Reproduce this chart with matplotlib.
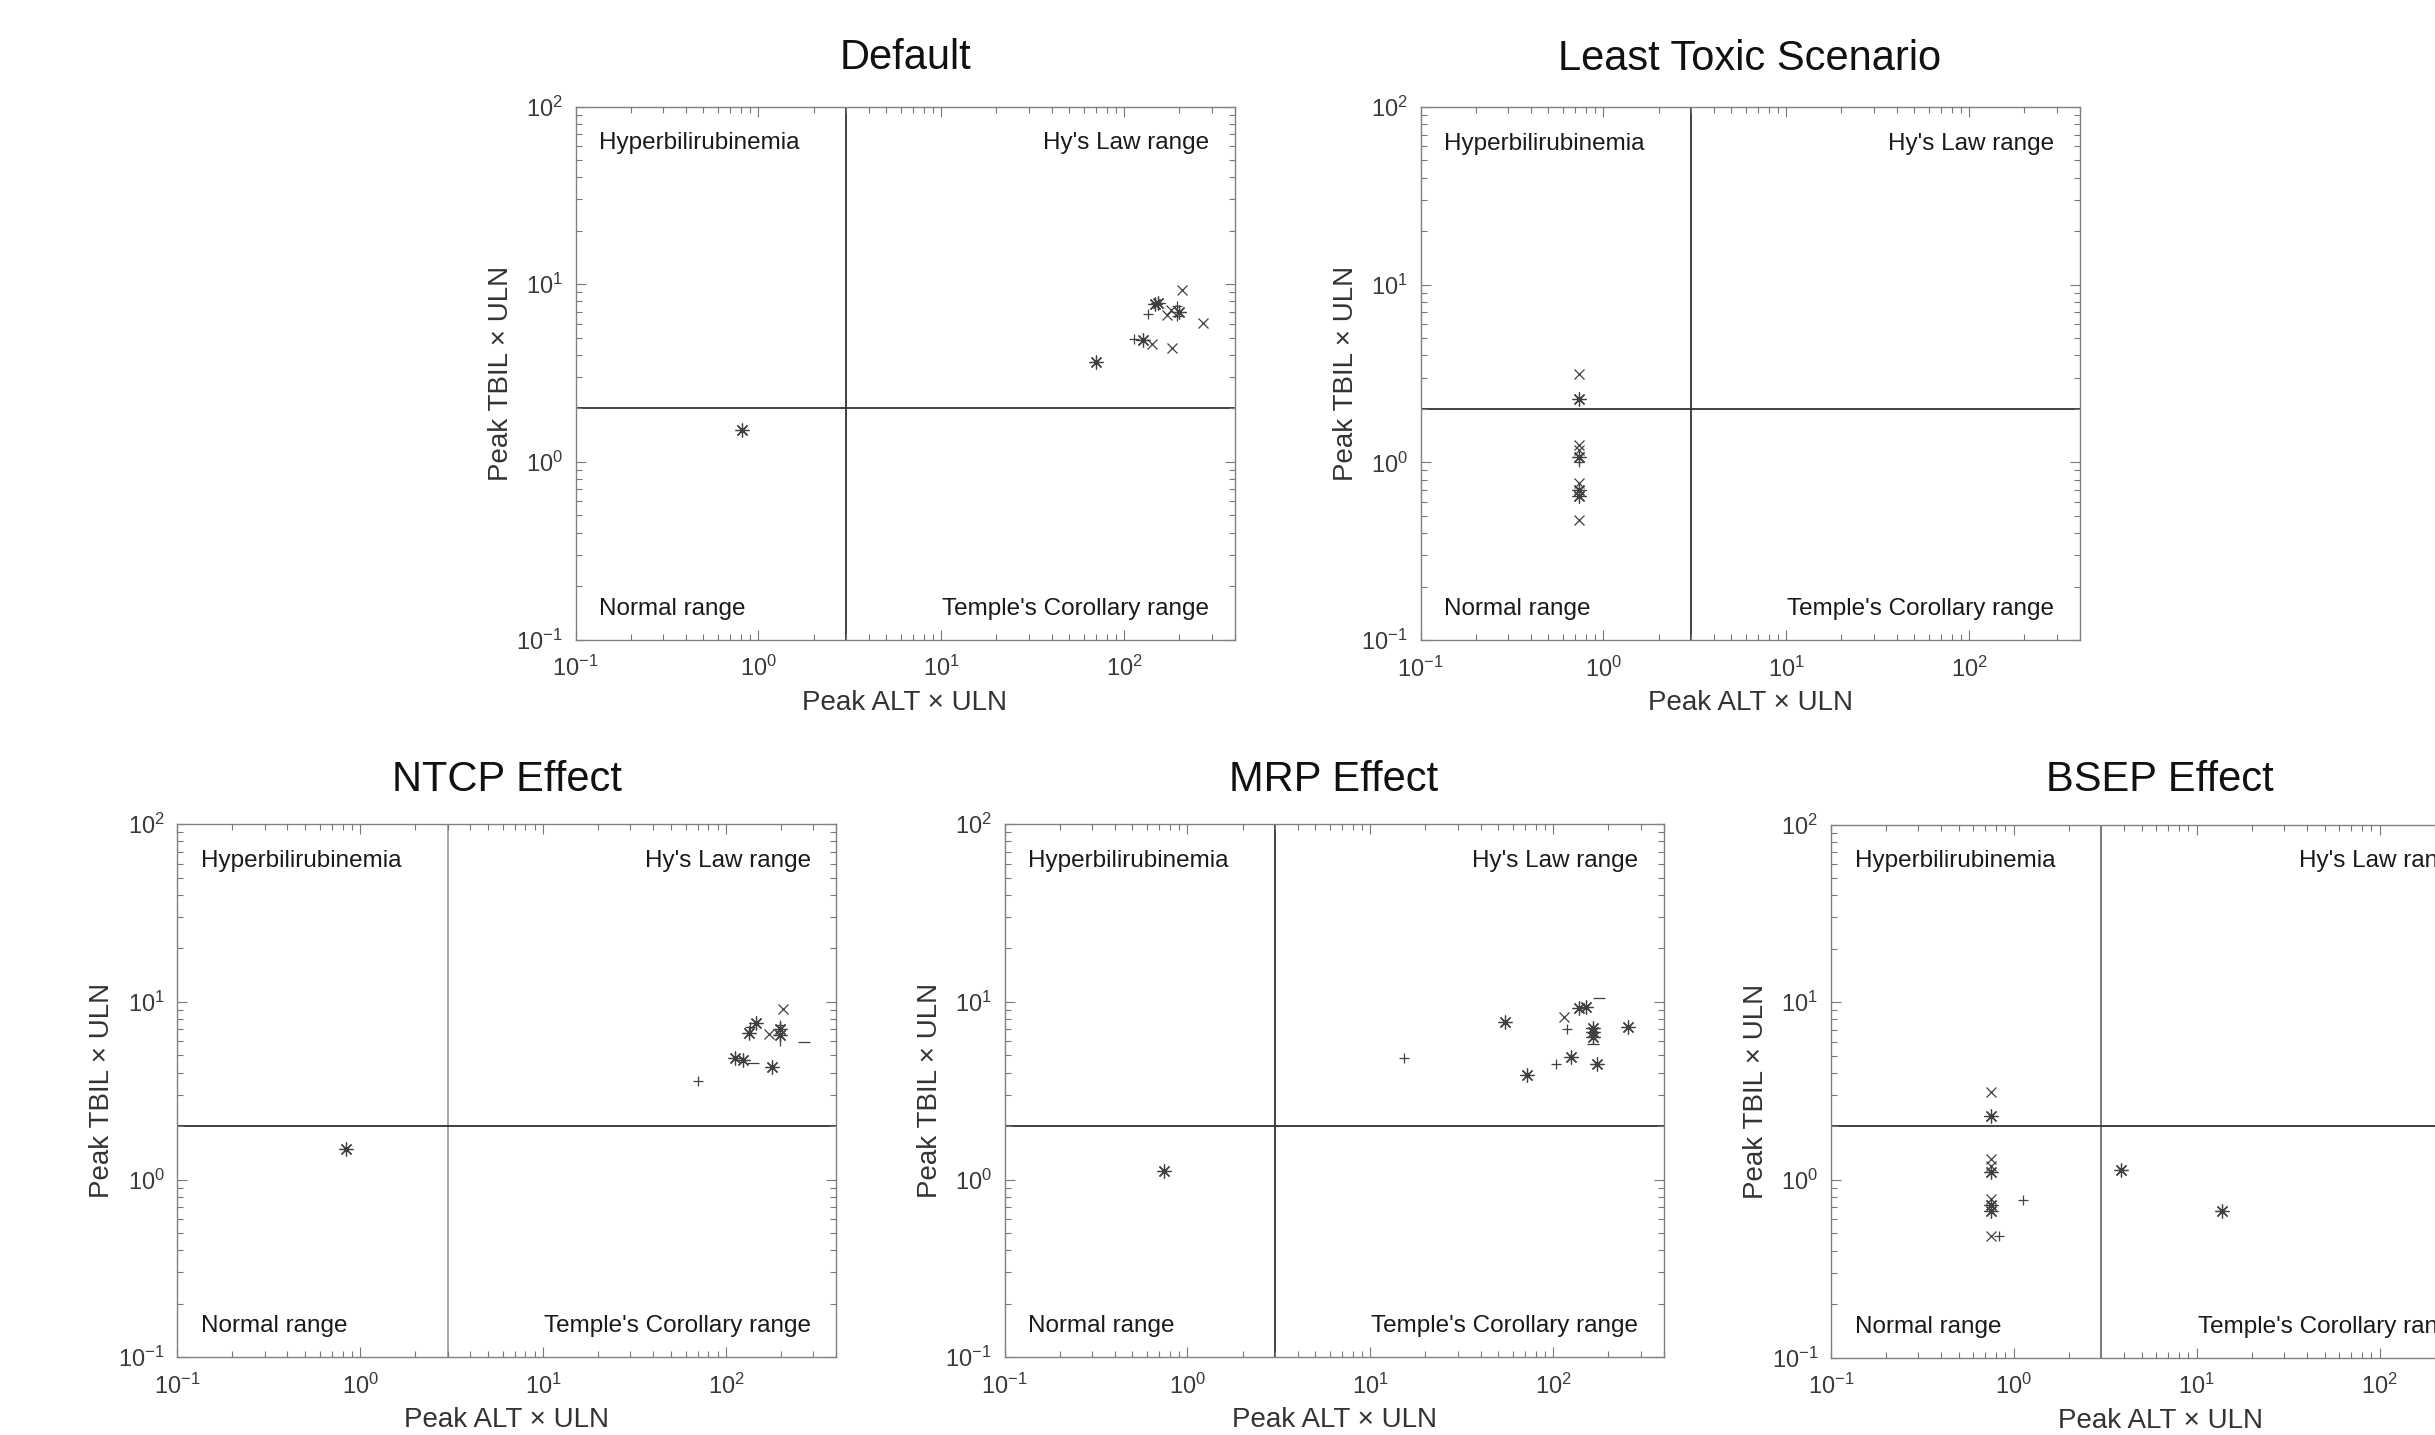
import matplotlib
matplotlib.use("Agg")
import matplotlib.pyplot as plt
from matplotlib.ticker import LogLocator, LogFormatterMathtext, NullFormatter

plt.rcParams['font.family'] = ['Liberation Sans', 'DejaVu Sans']
plt.rcParams['mathtext.fontset'] = 'custom'
plt.rcParams['mathtext.rm'] = 'Liberation Sans'
plt.rcParams['mathtext.it'] = 'Liberation Sans:italic'

# ---------------- data ----------------
titles = ["Default", "Least Toxic Scenario", "NTCP Effect", "MRP Effect", "BSEP Effect"]
quadrant_labels = ["Hyperbilirubinemia", "Hy's Law range", "Normal range", "Temple's Corollary range"]
x_label = "Peak ALT \u00d7 ULN"
y_label = "Peak TBIL \u00d7 ULN"
alt_threshold = 3
tbil_threshold = 2

default_alt = [0.81, 70, 113, 127, 141, 182, 270, 207, 147, 153, 135, 170, 194, 194, 181, 200]
default_tbil = [1.51, 3.63, 4.89, 4.84, 4.60, 4.36, 6.02, 9.26, 7.73, 7.80, 6.79, 6.70, 7.5, 6.6, 7.15, 7.0]

least_alt = [0.735, 0.735, 0.735, 0.735, 0.735, 0.735, 0.735, 0.735, 0.735, 0.735]
least_tbil = [3.14, 2.27, 1.26, 1.18, 1.07, 1.0, 0.77, 0.695, 0.645, 0.476]

ntcp_alt = [0.84, 70.6, 112, 124, 141, 179, 267, 205, 146.5, 135, 133, 172, 197, 197, 197, 197]
ntcp_tbil = [1.48, 3.59, 4.84, 4.70, 4.54, 4.28, 5.92, 9.07, 7.63, 7.24, 6.65, 6.6, 7.4, 6.5, 6.1, 7.0]

mrp_alt = [0.74, 15.2, 54.4, 72.1, 104, 124.5, 114.5, 118, 138, 150, 178, 164, 164, 164, 164, 173, 255]
mrp_tbil = [1.12, 4.84, 7.73, 3.87, 4.47, 4.91, 8.18, 7.03, 9.19, 9.3, 10.5, 7.1, 6.75, 6.36, 5.76, 4.47, 7.18]

bsep_alt = [0.75, 0.75, 0.75, 0.75, 0.75, 0.75, 0.75, 0.75, 0.75, 0.83, 1.12, 3.85, 13.8]
bsep_tbil = [3.11, 2.29, 1.31, 1.20, 1.10, 0.78, 0.72, 0.67, 0.48, 0.48, 0.77, 1.13, 0.67]

# ---------------- styles ----------------
AST = (8, 2, 0)  # MATLAB-like asterisk
marker_styles = {
    0: ['*', '*', '+', '*', 'x', 'x', 'x', 'x', '*', '*', '+', 'x', '+', '+', 'x', '*'],
    1: ['x', '*', 'x', 'x', '*', '+', 'x', '*', '*', 'x'],
    2: ['*', '+', '*', '*', '_', '*', '_', 'x', '*', '+', '*', 'x', '+', '*', '|', '*'],
    3: ['*', '+', '*', '*', '+', '*', 'x', '+', '*', '*', '_', '*', '*', '*', '_', '*', '*'],
    4: ['x', '*', 'x', 'x', '*', 'x', '*', '*', 'x', '+', '+', '*', '*'],
}
W, H = 2435, 1435
AXW, AXH = 659, 533
panel_px = [(575.5, 106.5), (1420.5, 107.0), (177.3, 824.2), (1004.5, 824.2), (1830.8, 824.5)]
title_pads = [27, 27, 24, 24, 24]
vline_colors = ['#333333', '#333333', '#a0a0a0', '#333333', '#707070']

datasets = [(default_alt, default_tbil), (least_alt, least_tbil), (ntcp_alt, ntcp_tbil),
            (mrp_alt, mrp_tbil), (bsep_alt, bsep_tbil)]

fig = plt.figure(figsize=(W / 100, H / 100), dpi=100)
fig.patch.set_facecolor('white')

for i, (title, (xs, ys)) in enumerate(zip(titles, datasets)):
    lx, ty = panel_px[i]
    ax = fig.add_axes([lx / W, 1 - (ty + AXH) / H, AXW / W, AXH / H])
    ax.set_xscale('log')
    ax.set_yscale('log')
    ax.set_xlim(0.1, 400)
    ax.set_ylim(0.1, 100)

    ax.axvline(alt_threshold, color=vline_colors[i], lw=1.3, zorder=1)
    ax.axhline(tbil_threshold, color='#333333', lw=1.3, zorder=1)

    for x, y, m in zip(xs, ys, marker_styles[i]):
        mk = AST if m == '*' else m
        ms = 10 if m == '*' else (8 if m in ('_', '|') else 7)
        ax.plot([x], [y], linestyle='none', marker=mk, ms=ms, mew=0.9,
                color='#404040', zorder=3)

    ax.xaxis.set_major_locator(LogLocator(base=10, numticks=10))
    ax.yaxis.set_major_locator(LogLocator(base=10, numticks=10))
    ax.xaxis.set_minor_locator(LogLocator(base=10, subs=range(2, 10), numticks=20))
    ax.yaxis.set_minor_locator(LogLocator(base=10, subs=range(2, 10), numticks=20))
    ax.xaxis.set_major_formatter(LogFormatterMathtext())
    ax.yaxis.set_major_formatter(LogFormatterMathtext())
    ax.xaxis.set_minor_formatter(NullFormatter())
    ax.yaxis.set_minor_formatter(NullFormatter())

    ax.tick_params(which='both', direction='in', top=True, right=True,
                   color='#777777', width=0.8, labelcolor='#3a3a3a', labelsize=17)
    ax.tick_params(which='major', length=7)
    ax.tick_params(which='minor', length=4)
    ax.tick_params(axis='x', which='major', pad=12)
    ax.tick_params(axis='y', which='major', pad=9)
    for sp in ax.spines.values():
        sp.set_color('#808080')
        sp.set_linewidth(1.0)

    ax.set_xlabel(x_label, fontsize=20, color='#333333', labelpad=6)
    ax.set_ylabel(y_label, fontsize=20, color='#333333', labelpad=2)
    ax.set_title(title, fontsize=30, pad=title_pads[i], color='#111111')

    tkw = dict(transform=ax.transAxes, fontsize=17.5, color='#1a1a1a', va='center')
    ax.text(0.036, 0.931, quadrant_labels[0], ha='left', **tkw)
    ax.text(0.962, 0.931, quadrant_labels[1], ha='right', **tkw)
    ax.text(0.036, 0.058, quadrant_labels[2], ha='left', **tkw)
    ax.text(0.962, 0.058, quadrant_labels[3], ha='right', **tkw)

fig.savefig('out.png', dpi=100, facecolor='white')
